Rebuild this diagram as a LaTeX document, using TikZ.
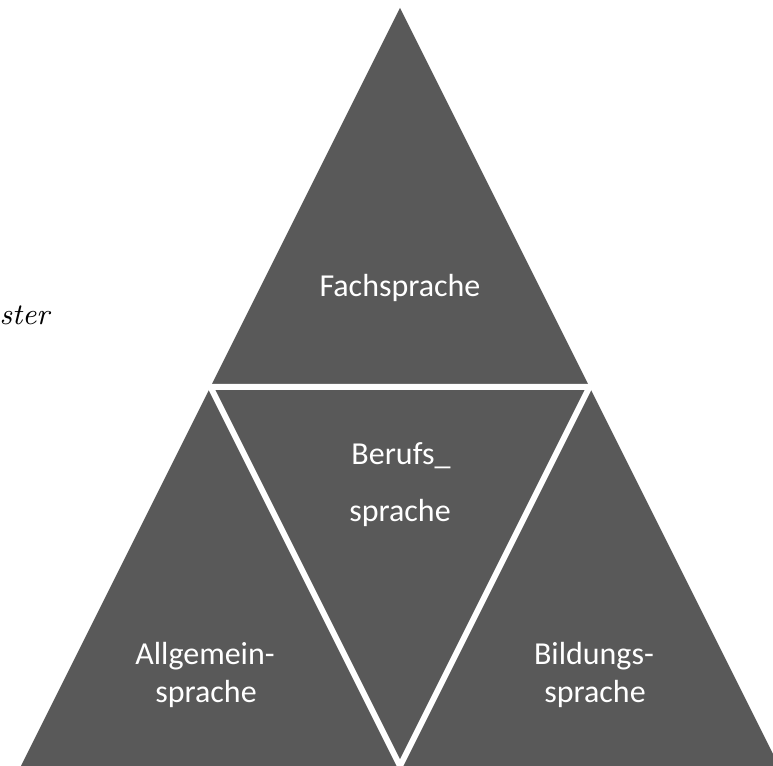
\documentclass[tikz,border=0pt]{standalone}
\usepackage{fontspec}
\newfontfamily\calib{Carlito}
\definecolor{pyrgray}{RGB}{89,89,89}
\tikzset{
  word/.style={anchor=base,inner sep=0pt,text=white,font=\calib\fontsize{9.1}{11}\selectfont},
  cut/.style={white,line width=1.7pt,line join=miter}
}
\newcommand{\word}[4]{\node[word] (#1) at (#2,#3) {#4};}

\begin{document}
\begin{tikzpicture}
    \useasboundingbox (0,0) rectangle (7.73,7.66);
    \clip (0,0) rectangle (7.73,7.66);
    % outer triangle and its midpoints
    \coordinate (top) at (4,7.58); \coordinate (bl) at (0.21,0); \coordinate (br) at (7.79,0);
    \coordinate (ml) at (2.105,3.79); \coordinate (mr) at (5.895,3.79); \coordinate (mb) at (4,0);
    \fill[pyrgray] (top) -- (bl) -- (br) -- cycle;
    \draw[cut] (ml) -- (mr) -- (mb) -- cycle;
    \word{fach}{4}{4.69}{Fachsprache}
    \word{beruf1}{4.01}{3.01}{Berufs\_}   \word{beruf2}{4}{2.44}{sprache}
    \word{allg1}{2.05}{1.01}{Allgemein-}  \word{allg2}{2.06}{0.63}{sprache}
    \word{bild1}{5.94}{1.01}{Bildungs-}   \word{bild2}{5.95}{0.63}{sprache}
    \node[anchor=base east,inner sep=0pt,font=\itshape\fontsize{8.5}{10}\selectfont] (ster) at (0.50,4.41) {ster};
\end{tikzpicture}
\end{document}
